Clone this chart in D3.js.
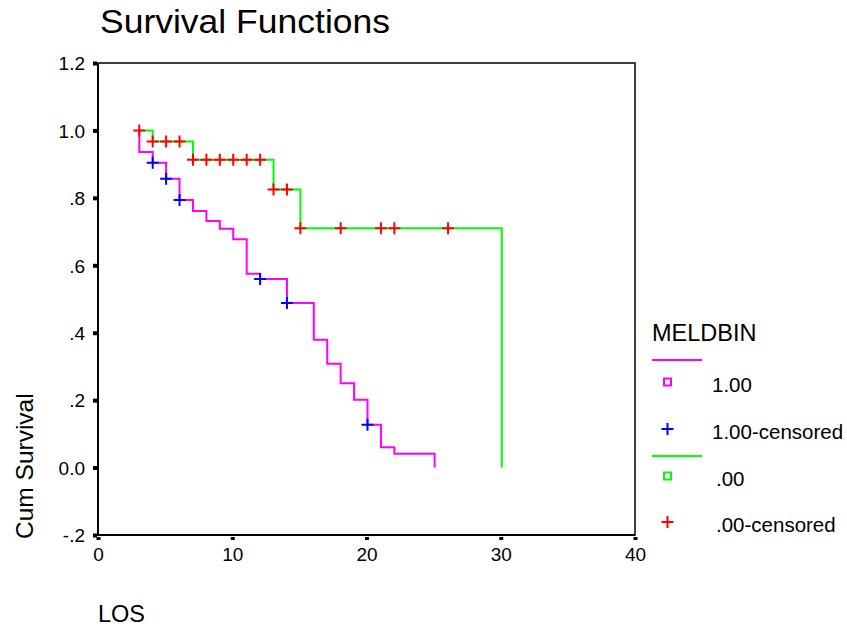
<!DOCTYPE html>
<html>
<head>
<meta charset="utf-8">
<script src="https://cdn.jsdelivr.net/npm/d3@7"></script>
<style>
  body { margin: 0; background: #fff; }
  svg { font-family: "Liberation Sans", Arial, sans-serif; }
</style>
</head>
<body>
<svg width="847" height="626"></svg>
<script>
// MELDBIN = 1.00 : step curve (time, cum survival)
const timesHigh = [3, 3, 4, 5, 6, 7, 8, 9, 10, 11, 12, 14, 16, 17, 18, 19, 20, 21, 22, 25];
const survHigh  = [1.0, 0.936, 0.904, 0.857, 0.794, 0.761, 0.731, 0.708, 0.677, 0.575, 0.559, 0.488, 0.379, 0.308, 0.250, 0.201, 0.127, 0.060, 0.041, 0];
const censHigh  = [4, 5, 6, 12, 14, 20];

// MELDBIN = .00
const timesLow = [3, 4, 7, 13, 15, 30];
const survLow  = [1.0, 0.967, 0.913, 0.825, 0.710, 0];
const censLow  = [3, 4, 5, 6, 7, 8, 9, 10, 11, 12, 13, 14, 15, 18, 21, 22, 26];

const xTicks = [0, 10, 20, 30, 40];
const yTicks = [-0.2, 0, 0.2, 0.4, 0.6, 0.8, 1.0, 1.2];
const yTickLabels = ["-.2", "0.0", ".2", ".4", ".6", ".8", "1.0", "1.2"];

const legendItems = [
    {label: "1.00", type: "square", color: "#ff00ff", dx: 0},
    {label: "1.00-censored", type: "plus", color: "#0000ff", dx: 0},
    {label: ".00", type: "square", color: "#00ff00", dx: 4},
    {label: ".00-censored", type: "plus", color: "#ff0000", dx: 4}
];

const svg = d3.select("svg");

const area = {left: 98, right: 635, top: 63, bottom: 535};

const scX = d3.scaleLinear().domain([0, 40]).range([area.left, area.right]);
const scY = d3.scaleLinear().domain([-0.2, 1.2]).range([area.bottom, area.top]);

// survival value at time t (step function, inclusive)
function survAt(times, surv, t) {
    let s = surv[0];
    for (let i = 0; i < times.length; i++) {
        if (times[i] <= t) s = surv[i];
    }
    return s;
}

function plusPath(cx, cy, h) {
    return `M${cx - h},${cy}H${cx + h}M${cx},${cy - h}V${cy + h}`;
}

function drawFrame() {
    svg.append("rect")
        .attr("x", area.left)
        .attr("y", area.top)
        .attr("width", area.right - area.left)
        .attr("height", area.bottom - area.top)
        .attr("fill", "none")
        .attr("stroke", "#000")
        .attr("stroke-width", 1.5);

    svg.append("line")
        .attr("x1", area.left).attr("x2", area.left)
        .attr("y1", area.top).attr("y2", area.bottom + 1)
        .attr("stroke", "#000").attr("stroke-width", 2);
    svg.append("line")
        .attr("x1", area.left).attr("x2", area.right)
        .attr("y1", area.bottom).attr("y2", area.bottom)
        .attr("stroke", "#000").attr("stroke-width", 2);

    // y axis ticks
    const axisY = d3.axisLeft(scY)
        .tickValues(yTicks)
        .tickSize(0)
        .tickPadding(13)
        .tickFormat((d, i) => yTickLabels[i]);
    const gy = svg.append("g")
        .attr("transform", `translate(${area.left}, 0)`)
        .call(axisY);
    gy.select(".domain").remove();
    gy.selectAll("text")
        .style("font-size", "19px")
        .style("font-family", "Liberation Sans, Arial, sans-serif")
        .attr("fill", "#000")
        .attr("dy", "0.36em");
    gy.selectAll(".tick").append("rect")
        .attr("x", -5).attr("y", -2)
        .attr("width", 4).attr("height", 4)
        .attr("fill", "#000");

    // x axis ticks
    const axisX = d3.axisBottom(scX)
        .tickValues(xTicks)
        .tickSize(0)
        .tickPadding(13)
        .tickFormat(d3.format("d"));
    const gx = svg.append("g")
        .attr("transform", `translate(0, ${area.bottom})`)
        .call(axisX);
    gx.select(".domain").remove();
    gx.selectAll("text")
        .style("font-size", "19px")
        .style("font-family", "Liberation Sans, Arial, sans-serif")
        .attr("fill", "#000");
    gx.selectAll(".tick").append("rect")
        .attr("x", -2).attr("y", 2)
        .attr("width", 4).attr("height", 3)
        .attr("fill", "#000");
}

function drawCurve(times, surv, cens, lineColor, markColor) {
    const pts = times.map((t, i) => [t, surv[i]]);
    const line = d3.line()
        .x(d => scX(d[0]) + 1)
        .y(d => scY(d[1]))
        .curve(d3.curveStepAfter);

    svg.append("path")
        .datum(pts)
        .attr("d", line)
        .attr("fill", "none")
        .attr("stroke", lineColor)
        .attr("stroke-width", 2);

    svg.append("g")
        .selectAll("path")
        .data(cens)
        .enter()
        .append("path")
        .attr("d", t => plusPath(scX(t) + 1, scY(survAt(times, surv, t)), 6))
        .attr("stroke", markColor)
        .attr("stroke-width", 2)
        .attr("fill", "none");
}

function drawLegend() {
    const lx = 652;
    svg.append("text")
        .attr("x", lx).attr("y", 341)
        .style("font-size", "23.5px")
        .text("MELDBIN");

    const lineYs = [360, 456];
    const lineColors = ["#ff00ff", "#00ff00"];
    lineYs.forEach((y, i) => {
        svg.append("line")
            .attr("x1", lx).attr("x2", lx + 50)
            .attr("y1", y).attr("y2", y)
            .attr("stroke", lineColors[i])
            .attr("stroke-width", 2);
    });

    const rowYs = [382, 429, 476, 522];
    legendItems.forEach((d, i) => {
        const cy = rowYs[i];
        if (d.type === "square") {
            svg.append("rect")
                .attr("x", 664).attr("y", cy - 3.5)
                .attr("width", 7).attr("height", 7)
                .attr("fill", "none")
                .attr("stroke", d.color)
                .attr("stroke-width", 2);
        } else {
            svg.append("path")
                .attr("d", plusPath(667.5, cy, 6))
                .attr("stroke", d.color)
                .attr("stroke-width", 2);
        }
        svg.append("text")
            .attr("x", 712 + d.dx).attr("y", cy + 9.5)
            .style("font-size", "20.5px")
            .text(d.label);
    });
}

svg.append("text")
    .attr("x", 100).attr("y", 33)
    .style("font-size", "33px")
    .attr("textLength", 290)
    .attr("lengthAdjust", "spacingAndGlyphs")
    .text("Survival Functions");

drawFrame();
drawCurve(timesHigh, survHigh, censHigh, "#ff00ff", "#0000ff");
drawCurve(timesLow, survLow, censLow, "#00ff00", "#ff0000");
drawLegend();

svg.append("text")
    .attr("transform", "translate(33, 539) rotate(-90)")
    .style("font-size", "24.5px")
    .text("Cum Survival");

svg.append("text")
    .attr("x", 98).attr("y", 622)
    .style("font-size", "23.5px")
    .text("LOS");
</script>
</body>
</html>
